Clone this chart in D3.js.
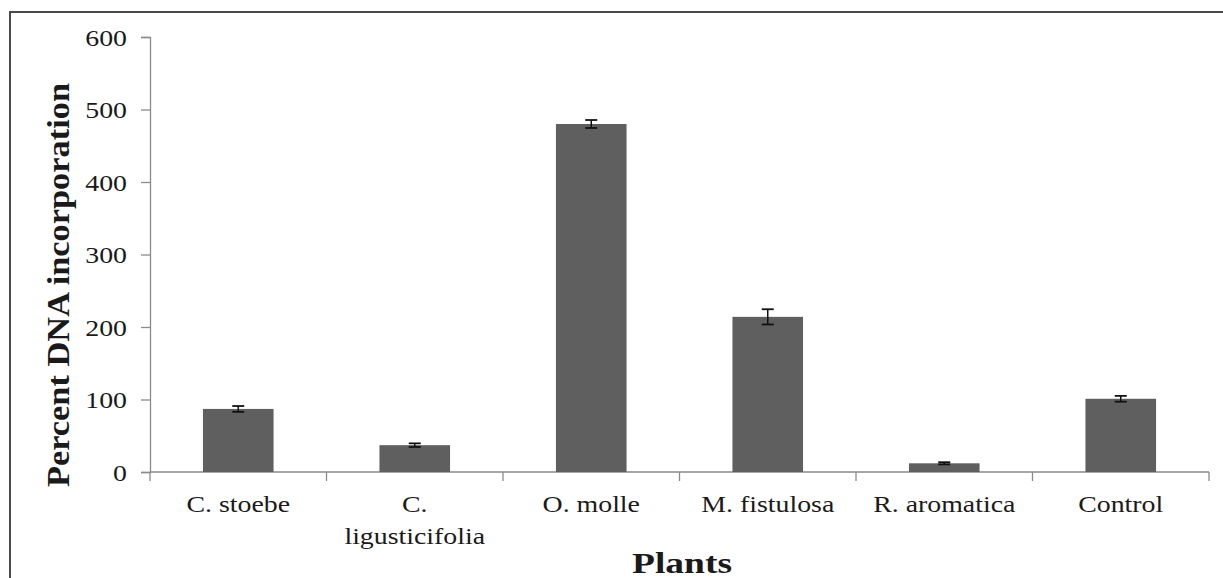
<!DOCTYPE html>
<html>
<head>
<meta charset="utf-8">
<script src="https://cdn.jsdelivr.net/npm/d3@7"></script>
<style>
  body { margin: 0; background: #fff; }
  text { font-family: "Liberation Serif", "Times New Roman", serif; fill: #1a1a1a; }
</style>
</head>
<body>
<div id="chart"></div>
<script>
// Data
const plants = ["C. stoebe", "C. ligusticifolia", "O. molle", "M. fistulosa", "R. aromatica", "Control"];
const labelLines = [["C. stoebe"], ["C.", "ligusticifolia"], ["O. molle"], ["M. fistulosa"], ["R. aromatica"], ["Control"]];
const means = [87, 37, 480, 214, 12, 101];
const errors = [4, 2.5, 5.5, 10.5, 1.5, 4];
const yTicks = [0, 100, 200, 300, 400, 500, 600];

const W = 1223, H = 578;
const margin = { top: 37, right: 14, bottom: 106, left: 150 };

const svg = d3.select("#chart")
  .append("svg")
  .attr("width", W)
  .attr("height", H);

// outer frame (only left and top visible in the picture)
svg.append("rect")
  .attr("x", 10)
  .attr("y", 12)
  .attr("width", W + 20)
  .attr("height", H + 20)
  .attr("fill", "none")
  .attr("stroke", "#4a4a4a")
  .attr("stroke-width", 2);

const x = d3.scaleBand()
  .domain(plants)
  .range([margin.left, W - margin.right])
  .padding(0);

const y = d3.scaleLinear()
  .domain([0, 600])
  .range([H - margin.bottom, margin.top]);

const axisColor = "#8a8a8a";
const sx = 1.16; // glyphs in the picture are stretched sideways

// y axis
const yAxis = svg.append("g")
  .attr("transform", `translate(${margin.left},0)`)
  .call(d3.axisLeft(y).tickValues(yTicks).tickSize(9).tickPadding(0).tickFormat(d3.format("d")));
yAxis.select(".domain").attr("stroke", axisColor).attr("stroke-width", 1.3);
yAxis.selectAll(".tick line").attr("stroke", axisColor).attr("stroke-width", 1.3);
yAxis.selectAll(".tick text")
  .attr("x", null)
  .attr("dy", null)
  .attr("transform", `translate(-23,8) scale(${sx},1)`)
  .style("font-family", "Liberation Serif")
  .style("font-size", "24px")
  .attr("fill", "#1a1a1a");

// x axis: ticks at band edges, pointing down
const edges = plants.map(p => x(p)).concat([x.range()[1]]);
const xAxis = svg.append("g");
xAxis.append("line")
  .attr("x1", x.range()[0]).attr("x2", x.range()[1])
  .attr("y1", y(0)).attr("y2", y(0))
  .attr("stroke", axisColor).attr("stroke-width", 1.3);
xAxis.selectAll(".edge")
  .data(edges)
  .join("line")
  .attr("class", "edge")
  .attr("x1", d => d).attr("x2", d => d)
  .attr("y1", y(0)).attr("y2", y(0) + 9)
  .attr("stroke", axisColor).attr("stroke-width", 1.3);

// bars
const barW = x.bandwidth() * 0.4;
svg.selectAll(".bar")
  .data(plants)
  .join("rect")
  .attr("class", "bar")
  .attr("x", d => x(d) + x.bandwidth() / 2 - barW / 2)
  .attr("y", (d, i) => y(means[i]))
  .attr("width", barW)
  .attr("height", (d, i) => y(0) - y(means[i]))
  .attr("fill", "#5f5f5f");

// error bars
const capW = 6;
const err = svg.selectAll(".err")
  .data(plants)
  .join("g")
  .attr("class", "err")
  .attr("transform", d => `translate(${x(d) + x.bandwidth() / 2},0)`);
err.append("line")
  .attr("y1", (d, i) => y(means[i] + errors[i]))
  .attr("y2", (d, i) => y(means[i] - errors[i]))
  .attr("stroke", "#111").attr("stroke-width", 1.5);
err.append("line")
  .attr("x1", -capW).attr("x2", capW)
  .attr("y1", (d, i) => y(means[i] + errors[i]))
  .attr("y2", (d, i) => y(means[i] + errors[i]))
  .attr("stroke", "#111").attr("stroke-width", 1.8);
err.append("line")
  .attr("x1", -capW).attr("x2", capW)
  .attr("y1", (d, i) => y(means[i] - errors[i]))
  .attr("y2", (d, i) => y(means[i] - errors[i]))
  .attr("stroke", "#111").attr("stroke-width", 1.8);

// category labels
const cat = svg.selectAll(".cat")
  .data(plants)
  .join("g")
  .attr("class", "cat")
  .attr("transform", d => `translate(${x(d) + x.bandwidth() / 2},${y(0) + 40})`);
cat.selectAll("text")
  .data((d, i) => labelLines[i].map((t, j) => ({ t, j })))
  .join("text")
  .attr("text-anchor", "middle")
  .attr("transform", d => `translate(0,${d.j * 32}) scale(${sx},1)`)
  .style("font-size", "24px")
  .text(d => d.t);

// axis titles
svg.append("text")
  .attr("x", 682)
  .attr("y", 573)
  .attr("text-anchor", "middle")
  .attr("textLength", 100)
  .attr("lengthAdjust", "spacingAndGlyphs")
  .style("font-size", "29px")
  .style("font-weight", "bold")
  .text("Plants");

svg.append("text")
  .attr("transform", "translate(69,285) rotate(-90)")
  .attr("text-anchor", "middle")
  .attr("textLength", 404)
  .attr("lengthAdjust", "spacingAndGlyphs")
  .style("font-size", "31px")
  .style("font-weight", "bold")
  .text("Percent DNA incorporation");
</script>
</body>
</html>
